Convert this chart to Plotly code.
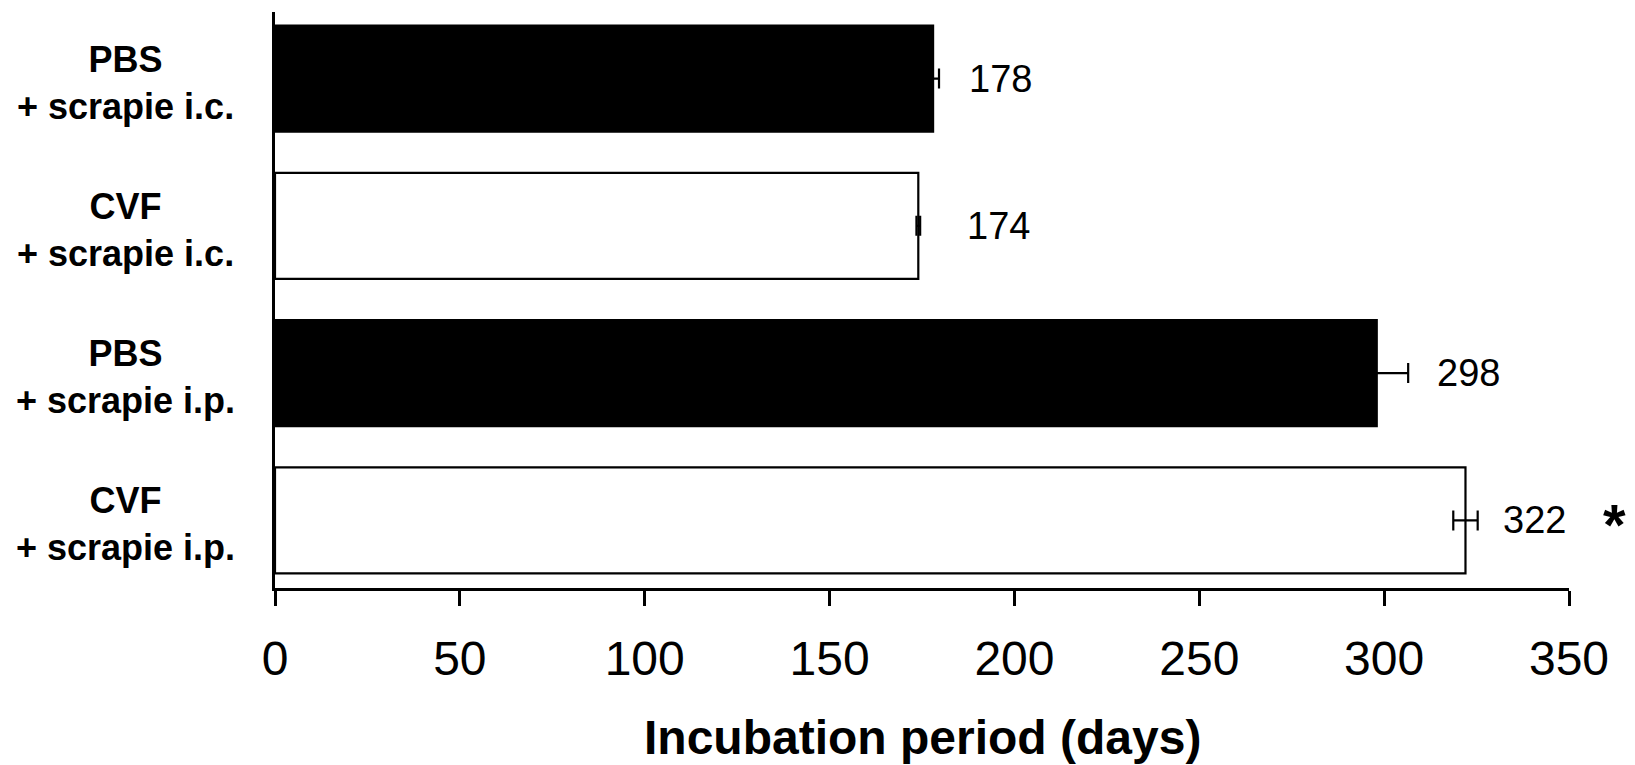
import plotly.graph_objects as go

# ---- data ----
groups = ["PBS<br>+ scrapie i.c.", "CVF<br>+ scrapie i.c.",
          "PBS<br>+ scrapie i.p.", "CVF<br>+ scrapie i.p."]
incubation_days = [178, 174, 298, 322]
error_days = [1.6, 0.5, 8.5, 3.3]
value_labels = ["178", "174", "298", "322"]
x_ticks = [0, 50, 100, 150, 200, 250, 300, 350]
x_title = "Incubation period (days)"
significance = ["", "", "", "*"]

# ---- style ----
FONT = "Liberation Sans, Arial, Helvetica, sans-serif"
fills = ["black", "white", "black", "white"]
label_gap_px = [28, 45, 27, 23]

fig = go.Figure()
fig.add_trace(go.Bar(
    y=groups, x=incubation_days, orientation="h",
    width=0.72,
    marker=dict(color=fills, line=dict(color="black", width=2.2)),
    error_x=dict(type="data", array=error_days, symmetric=True,
                 color="black", thickness=2.2, width=10),
    showlegend=False, hoverinfo="x+y",
))

annotations = []
for i, g in enumerate(groups):
    annotations.append(dict(
        x=-0.1156, xref="paper", y=g, yref="y", text="<b>%s</b>" % g,
        showarrow=False, xanchor="center", yanchor="middle", align="center",
        font=dict(family=FONT, size=36, color="black"), yshift=-4,
    ))
    annotations.append(dict(
        x=incubation_days[i] + error_days[i], xref="x", y=g, yref="y",
        text=value_labels[i], showarrow=False, xanchor="left", yanchor="middle",
        xshift=label_gap_px[i],
        font=dict(family=FONT, size=38, color="black"),
    ))
    if significance[i]:
        annotations.append(dict(
            x=1.035, xref="paper", y=g, yref="y", text="<b>%s</b>" % significance[i],
            showarrow=False, xanchor="center", yanchor="middle", yshift=-4,
            font=dict(family=FONT, size=58, color="black"),
        ))

annotations.append(dict(
    x=0.5, xref="paper", y=0, yref="paper", yshift=-121,
    text="<b>%s</b>" % x_title, showarrow=False, xanchor="center", yanchor="top",
    font=dict(family=FONT, size=48, color="black"),
))

shapes = [
    dict(type="line", xref="x", xsizemode="pixel", xanchor=0, x0=-18, x1=0,
         yref="paper", y0=1, y1=1, line=dict(color="black", width=2.5)),
    dict(type="line", xref="x", xsizemode="pixel", xanchor=0, x0=-18, x1=0,
         yref="paper", y0=0, y1=0, line=dict(color="black", width=2.5)),
]

fig.update_layout(
    width=1635, height=765,
    margin=dict(l=275, r=66, t=12, b=177, pad=0),
    paper_bgcolor="white", plot_bgcolor="white",
    font=dict(family=FONT, color="black"),
    annotations=annotations, shapes=shapes,
    xaxis=dict(
        range=[0, 350], tickmode="array", tickvals=x_ticks,
        ticktext=[str(t) for t in x_ticks],
        showline=True, linecolor="black", linewidth=2.5,
        ticks="outside", ticklen=15, tickwidth=2.5, tickcolor="black",
        showgrid=False, zeroline=False,
        tickfont=dict(family=FONT, size=48, color="black"),
        ticklabelstandoff=12,
    ),
    yaxis=dict(
        type="category", categoryorder="array", categoryarray=groups,
        range=[3.459, -0.452],
        showline=True, linecolor="black", linewidth=2.5,
        ticks="", showticklabels=False, showgrid=False, zeroline=False,
    ),
)

fig.write_html("out.html", config={"displayModeBar": False},
               post_script="document.body.style.margin='0';document.body.style.padding='0';")
